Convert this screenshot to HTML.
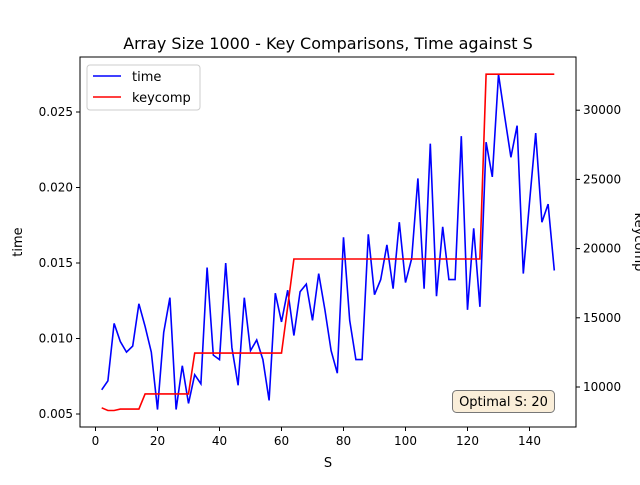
<!DOCTYPE html>
<html><head><meta charset="utf-8"><style>
body{margin:0;background:#fff}
svg text{font-family:"DejaVu Sans","Liberation Sans",sans-serif;fill:#000}
</style></head><body>
<svg id="c" width="640" height="480" xmlns="http://www.w3.org/2000/svg"></svg>
<script>
const sVals=[2,4,6,8,10,12,14,16,18,20,22,24,26,28,30,32,34,36,38,40,42,44,46,48,50,52,54,56,58,60,62,64,66,68,70,72,74,76,78,80,82,84,86,88,90,92,94,96,98,100,102,104,106,108,110,112,114,116,118,120,122,124,126,128,130,132,134,136,138,140,142,144,146,148];
const timeVals=[0.0066,0.0072,0.0110,0.0098,0.0091,0.0095,0.0123,0.0108,0.0091,0.0053,0.0104,0.0127,0.0053,0.0082,0.0057,0.0076,0.0070,0.0147,0.0089,0.0086,0.0150,0.0094,0.0069,0.0127,0.0092,0.0099,0.0086,0.0059,0.0130,0.0111,0.0132,0.0102,0.0131,0.0136,0.0112,0.0143,0.0119,0.0092,0.0077,0.0167,0.0112,0.0086,0.0086,0.0169,0.0129,0.0139,0.0162,0.0133,0.0177,0.0137,0.0153,0.0206,0.0133,0.0229,0.0128,0.0174,0.0139,0.0139,0.0234,0.0119,0.0173,0.0121,0.0230,0.0207,0.0275,0.0247,0.0220,0.0241,0.0143,0.0190,0.0236,0.0177,0.0189,0.0145];
const keyVals=[8500,8300,8300,8400,8400,8400,8400,9500,9500,9500,9500,9500,9500,9500,9500,12450,12450,12450,12450,12450,12450,12450,12450,12450,12450,12450,12450,12450,12450,12450,15800,19250,19250,19250,19250,19250,19250,19250,19250,19250,19250,19250,19250,19250,19250,19250,19250,19250,19250,19250,19250,19250,19250,19250,19250,19250,19250,19250,19250,19250,19250,19250,32600,32600,32600,32600,32600,32600,32600,32600,32600,32600,32600,32600];
const xTicks=[0,20,40,60,80,100,120,140];
const yTicks=[0.005,0.010,0.015,0.020,0.025];
const y2Ticks=[10000,15000,20000,25000,30000];

const L=80,R=576,T=57,B=427;
const xs=v=>95.5+v*3.1;
const ys=v=>414-(v-0.005)*15100;
const y2s=v=>387-(v-10000)*69.2/5000;
const svg=document.getElementById('c');
const NS='http://www.w3.org/2000/svg';
function mk(tag,attrs,parent){const e=document.createElementNS(NS,tag);for(const k in attrs)e.setAttribute(k,attrs[k]);(parent||svg).appendChild(e);return e;}

let t=mk('text',{x:328,y:49,'font-size':16,'text-anchor':'middle'});t.textContent='Array Size 1000 - Key Comparisons, Time against S';



let d1=sVals.map((s,i)=>(i?'L':'M')+xs(s).toFixed(1)+','+ys(timeVals[i]).toFixed(1)).join('');
let p1=mk('path',{d:d1,fill:'none',stroke:'#0000ff','stroke-width':1.6});


let d2=sVals.map((s,i)=>(i?'L':'M')+xs(s).toFixed(1)+','+y2s(keyVals[i]).toFixed(1)).join('');
let p2=mk('path',{d:d2,fill:'none',stroke:'#ff0000','stroke-width':1.6});



let fr=mk('rect',{x:L,y:T,width:R-L,height:B-T,fill:'none',stroke:'#000','stroke-width':1});



xTicks.forEach(v=>{const x=xs(v);mk('line',{x1:x,x2:x,y1:B,y2:B+4,stroke:'#000'});
 const tx=mk('text',{x:x,y:B+18,'font-size':12,'text-anchor':'middle'});tx.textContent=v;
 
 });
yTicks.forEach(v=>{const y=ys(v);mk('line',{x1:L-4,x2:L,y1:y,y2:y,stroke:'#000'});
 const tx=mk('text',{x:L-7,y:y+4,'font-size':12,'text-anchor':'end'});tx.textContent=v.toFixed(3);
 
 });
y2Ticks.forEach(v=>{const y=y2s(v);mk('line',{x1:R,x2:R+4,y1:y,y2:y,stroke:'#000'});
 const tx=mk('text',{x:R+7,y:y+4,'font-size':12});tx.textContent=v;
 
 });

t=mk('text',{x:328,y:467,'font-size':13,'text-anchor':'middle'});t.textContent='S';


t=mk('text',{x:22,y:242,'font-size':13,'text-anchor':'middle',transform:'rotate(-90 22 242)'});t.textContent='time';


t=mk('text',{x:635,y:242,'font-size':13,'text-anchor':'middle',transform:'rotate(90 635 242)'});t.textContent='keycomp';



const lg=mk('g',{});


mk('rect',{x:87,y:65,width:113,height:45,rx:3,fill:'#fff','fill-opacity':0.8,stroke:'#ccc'},lg);
mk('line',{x1:93,x2:121,y1:76,y2:76,stroke:'#0000ff','stroke-width':1.6},lg);
t=mk('text',{x:132,y:81,'font-size':13},lg);t.textContent='time';


mk('line',{x1:93,x2:121,y1:97,y2:97,stroke:'#ff0000','stroke-width':1.6},lg);
t=mk('text',{x:132,y:102,'font-size':13},lg);t.textContent='keycomp';



const an=mk('g',{});


mk('rect',{x:452.5,y:390.5,width:102,height:22,rx:4,fill:'#f5deb3','fill-opacity':0.5,stroke:'#777'},an);
t=mk('text',{x:503.5,y:406,'font-size':13,'text-anchor':'middle'},an);t.textContent='Optimal S: 20';
</script>
</body></html>
